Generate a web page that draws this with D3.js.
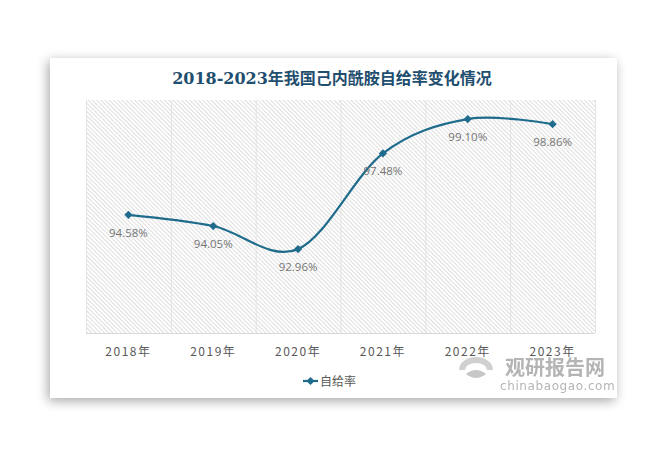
<!DOCTYPE html>
<html><head><meta charset="utf-8">
<script src="https://cdn.jsdelivr.net/npm/d3@7/dist/d3.min.js"></script>
<style>
html,body{margin:0;padding:0;background:#fff;}
svg{display:block;}
</style></head>
<body><svg id="c" width="672" height="452"></svg>
<script>
const categories = ["2018年","2019年","2020年","2021年","2022年","2023年"];
const values = [94.58, 94.05, 92.96, 97.48, 99.10, 98.86];
const valueLabels = ["94.58%","94.05%","92.96%","97.48%","99.10%","98.86%"];
const seriesName = "自给率";
const title = "2018-2023年我国己内酰胺自给率变化情况";

const svg = d3.select("#c");
const defs = svg.append("defs");
const f = defs.append("filter").attr("id","sh").attr("x","-10%").attr("y","-10%").attr("width","120%").attr("height","125%");
f.append("feGaussianBlur").attr("in","SourceAlpha").attr("stdDeviation",6);
f.append("feOffset").attr("dx",-2).attr("dy",3).attr("result","b");
f.append("feComponentTransfer").append("feFuncA").attr("type","linear").attr("slope",0.35);
const m = f.append("feMerge"); m.append("feMergeNode"); m.append("feMergeNode").attr("in","SourceGraphic");

const pat = defs.append("pattern").attr("id","hatch").attr("patternUnits","userSpaceOnUse")
  .attr("width",3).attr("height",3).attr("patternTransform","rotate(-45)");
pat.append("rect").attr("width",3).attr("height",3).attr("fill","#fff");
pat.append("line").attr("x1",0).attr("y1",0).attr("x2",0).attr("y2",3).attr("stroke","#c4c4c4").attr("stroke-width",1.1);

svg.append("rect").attr("x",50).attr("y",58).attr("width",567).attr("height",340).attr("fill","#fff").attr("filter","url(#sh)");

const L=86,R=595,T=100,B=333;
const x = d3.scaleBand().domain(categories).range([L,R]);
const y = d3.scaleLinear().domain([89,100]).range([B,T]);

svg.append("rect").attr("x",L).attr("y",T).attr("width",R-L).attr("height",B-T).attr("fill","url(#hatch)");

const bounds = categories.map(c=>x(c)).concat([R]);
svg.append("g").selectAll("line").data(bounds).join("line")
  .attr("x1",d=>d+0.5).attr("x2",d=>d+0.5).attr("y1",T).attr("y2",B)
  .attr("stroke","#e3e3e3").attr("stroke-width",1);
svg.append("line").attr("x1",L).attr("x2",R).attr("y1",B+0.5).attr("y2",B+0.5).attr("stroke","#d9d9d9");

const xa = svg.append("g").attr("transform",`translate(0,${B})`).call(d3.axisBottom(x).tickSize(0).tickPadding(14));
xa.select(".domain").remove();
xa.selectAll("text").attr("font-family","'Noto Sans CJK SC','DejaVu Sans',sans-serif").attr("font-size",12)
  .attr("fill","#595959").attr("letter-spacing","1.5px");

const color = "#1e6b8c";
const data = categories.map((c,i)=>({c,v:values[i],l:valueLabels[i]}));
const line = d3.line().x(d=>x(d.c)+x.bandwidth()/2).y(d=>y(d.v)).curve(d3.curveCardinal.tension(0));
svg.append("path").datum(data).attr("d",line).attr("fill","none").attr("stroke",color).attr("stroke-width",2.2);

const sym = d3.symbol().type(d3.symbolSquare).size(34);
svg.append("g").selectAll("path").data(data).join("path").attr("d",sym)
  .attr("transform",d=>`translate(${x(d.c)+x.bandwidth()/2},${y(d.v)}) rotate(45)`).attr("fill",color);

svg.append("g").selectAll("text").data(data).join("text")
  .attr("x",d=>x(d.c)+x.bandwidth()/2).attr("y",d=>y(d.v)+22)
  .attr("text-anchor","middle").attr("font-family","'Open Sans','DejaVu Sans',sans-serif").attr("font-size",11.5)
  .attr("fill","#757575").text(d=>d.l);

svg.append("text").attr("x",332).attr("y",84).attr("text-anchor","middle")
  .attr("font-family","'DejaVu Serif','Noto Sans CJK SC',serif").attr("font-weight","bold").attr("font-size",16)
  .attr("fill","#1f4e6e").text(title);

// legend
svg.append("line").attr("x1",303).attr("x2",318).attr("y1",381).attr("y2",381).attr("stroke",color).attr("stroke-width",2.2);
svg.append("path").attr("d",sym).attr("transform","translate(310.5,381) rotate(45)").attr("fill",color);
svg.append("text").attr("x",320).attr("y",385.5).attr("font-family","'Noto Sans CJK SC',sans-serif").attr("font-size",12)
  .attr("fill","#595959").text(seriesName);

// watermark
const wm = svg.append("g").attr("opacity",0.85);
wm.append("path").attr("d","M462,370 a14,10 0 1,1 28,0").attr("fill","none").attr("stroke","#c8c8c8").attr("stroke-width",6);
wm.append("path").attr("d","M466,374 q10,-8 20,0 q-10,8 -20,0").attr("fill","#bdbdbd");
wm.append("text").attr("x",505).attr("y",375).attr("font-family","'Noto Sans CJK SC',sans-serif").attr("font-weight","bold")
  .attr("font-size",20).attr("fill","#a8a8a8").text("观研报告网");
wm.append("text").attr("x",500).attr("y",390).attr("font-family","'DejaVu Sans',sans-serif")
  .attr("font-size",12).attr("fill","#a8a8a8").attr("letter-spacing","0.6px").text("chinabaogao.com");
</script></body></html>
